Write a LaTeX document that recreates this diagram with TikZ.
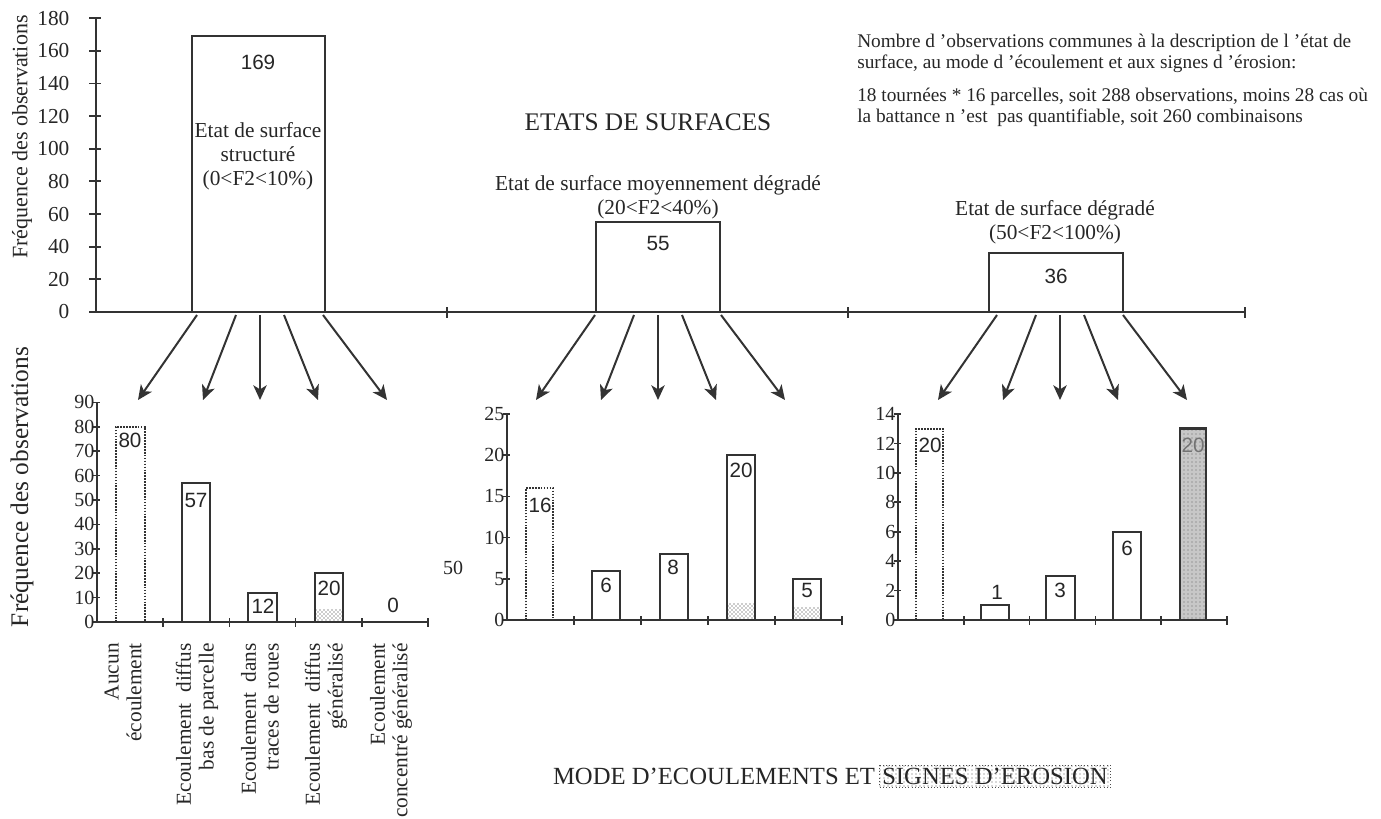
\documentclass[tikz,border=0pt]{standalone}
\usepackage{fontspec}
\setmainfont{Liberation Serif}
\setsansfont{Liberation Sans}
\usetikzlibrary{arrows.meta,patterns,positioning}

\begin{document}
\begin{tikzpicture}[x=0.75pt, y=-0.75pt,
  ink/.style={draw=black!80},
  axisline/.style={ink, line width=1.3pt},
  bar/.style={ink, line width=1.4pt},
  lightbar/.style={ink, densely dotted, line width=1.2pt},
  flow/.style={ink, line width=1.5pt, -{Stealth[length=11pt, width=10pt, inset=3pt]}},
  numlbl/.style={font=\fontsize{16}{17}\selectfont, inner sep=1pt, anchor=east, text=black!85},
  ytick/.style={font=\fontsize{15}{16}\selectfont, inner sep=1pt, anchor=east, text=black!85},
  val/.style={font=\sffamily\fontsize{15.5}{16}\selectfont, inner sep=0pt, text=black!85},
  lbl/.style={font=\fontsize{16}{18}\selectfont, align=center, inner sep=0pt, text=black!85},
  ylab/.style={rotate=90, inner sep=0pt, text=black!85},
  cat/.style={font=\fontsize{16}{17}\selectfont, rotate=90, anchor=east, align=right, inner sep=0pt, text=black!85},
  note/.style={font=\fontsize{14.5}{15.5}\selectfont, align=left, inner sep=0pt, anchor=north west, text=black!85},
  mode/.style={font=\fontsize{18.5}{20}\selectfont, inner sep=2pt, text=black!85},
  dotfill/.style={pattern=crosshatch dots, pattern color=black!85},
]
\useasboundingbox (0,0) rectangle (1381,818);

% etats de surfaces
\draw[axisline] (96,18) -- (96,312) -- (1245,312);
\foreach \v in {0,20,...,180}
  {\draw[axisline] (89,312-1.633*\v) -- (101,312-1.633*\v);
   \node[numlbl] (top\v) at (71,312-1.633*\v) {\v};}
\foreach \x in {447,848,1245} \draw[axisline] (\x,307) -- (\x,318);
\node[ylab, font=\fontsize{16.5}{18}\selectfont] (yhaut) at (22,137) {Fréquence des observations};

\draw[bar] (192,312) rectangle (325,36);
\draw[bar] (596,312) rectangle (720,222);
\draw[bar] (989,312) rectangle (1123,253);
\node[val] (n169) at (258,62) {169};
\node[lbl] (es1) at (258,156) {Etat de surface\\structuré\\(0<F2<10\%)};
\node[lbl] (es2) at (658,197) {Etat de surface moyennement dégradé\\(20<F2<40\%)};
\node[val] (n55) at (658,243) {55};
\node[lbl] (es3) at (1055,222) {Etat de surface dégradé\\(50<F2<100\%)};
\node[val] (n36) at (1056,276) {36};
\node[font=\fontsize{19}{21}\selectfont, text=black!85] (etats) at (648,122) {ETATS DE SURFACES};

\node[note] (note1) at (857,34) {Nombre d 'observations communes à la description de l 'état de\\surface, au mode d 'écoulement et aux signes d 'érosion:};
\node[note] (note2) at (857,88) {18 tournées * 16 parcelles, soit 288 observations, moins 28 cas où\\la battance n 'est~ pas quantifiable, soit 260 combinaisons};

% fleches
\foreach \g/\dx in {a/0,b/398,c/800}
  \foreach \i/\xa/\xb in {1/197/138,2/236/203,3/260/260,4/284/318,5/323/387}
  {\coordinate (\g s\i) at (\xa+\dx,315);
   \coordinate (\g e\i) at (\xb+\dx,400);
   \draw[flow] (\g s\i) -- (\g e\i);}

% modes d'ecoulement
\node[ylab, font=\fontsize{19}{20}\selectfont] (ybas) at (22,487) {Fréquence des observations};

\begin{scope}[shift={(97,622)}]
  \draw[axisline] (0,-220) -- (0,0) -- (331,0);
  \foreach \v in {0,10,...,90}
    {\draw[axisline] (-4,-2.44*\v) -- (3,-2.44*\v);
     \node[ytick] (ga\v) at (-1,-2.44*\v) {\v};}
  \foreach \k in {1,...,5} \draw[axisline] (66.2*\k,-4) -- (66.2*\k,5);
  \draw[lightbar] (19,0) rectangle (48,-195.2);
  \draw[bar] (85,0) rectangle (113,-139.1);
  \draw[bar] (151,0) rectangle (180,-29.3);
  \path[dotfill] (218,0) rectangle (246,-12.2);
  \draw[bar] (218,0) rectangle (246,-48.8);
  \node[val] (va1) at (33,-182) {80};
  \node[val] (va2) at (99,-122) {57};
  \node[val] (va3) at (166,-16) {12};
  \node[val] (va4) at (232,-34) {20};
  \node[val] (va5) at (296,-17) {0};
\end{scope}

\node[font=\fontsize{15}{16}\selectfont, text=black!85] (cinquante) at (453,568) {50};

\begin{scope}[shift={(507,620)}]
  \draw[axisline] (0,-206) -- (0,0) -- (335,0);
  \foreach \v in {0,5,...,25}
    {\draw[axisline] (-4,-8.24*\v) -- (3,-8.24*\v);
     \node[ytick] (gb\v) at (-1,-8.24*\v) {\v};}
  \foreach \k in {1,...,5} \draw[axisline] (67*\k,-4) -- (67*\k,5);
  \draw[lightbar] (19,0) rectangle (46,-131.8);
  \draw[bar] (85,0) rectangle (113,-49.4);
  \draw[bar] (153,0) rectangle (181,-65.9);
  \path[dotfill] (220,0) rectangle (248,-16.5);
  \draw[bar] (220,0) rectangle (248,-164.8);
  \path[dotfill] (286,0) rectangle (314,-12.4);
  \draw[bar] (286,0) rectangle (314,-41.2);
  \node[val] (vb1) at (33,-115) {16};
  \node[val] (vb2) at (99,-35) {6};
  \node[val] (vb3) at (166,-53) {8};
  \node[val] (vb4) at (234,-150) {20};
  \node[val] (vb5) at (300,-30) {5};
\end{scope}

\begin{scope}[shift={(898,620)}]
  \draw[axisline] (0,-206) -- (0,0) -- (329,0);
  \foreach \v in {0,2,...,14}
    {\draw[axisline] (-4,-14.71*\v) -- (3,-14.71*\v);
     \node[ytick] (gc\v) at (-1,-14.71*\v) {\v};}
  \foreach \k in {1,...,5} \draw[axisline] (65.8*\k,-4) -- (65.8*\k,5);
  \draw[lightbar] (18,0) rectangle (45,-191.2);
  \draw[bar] (83,0) rectangle (111,-14.7);
  \draw[bar] (148,0) rectangle (177,-44.1);
  \draw[bar] (215,0) rectangle (243,-88.3);
  \fill[black!22] (282,0) rectangle (308,-191.2);
  \path[pattern=dots, pattern color=black!60] (282,0) rectangle (308,-191.2);
  \draw[ink, line width=2.2pt] (282,0) rectangle (308,-191.2);
  \node[val] (vc1) at (32,-175) {20};
  \node[val] (vc2) at (99,-28) {1};
  \node[val] (vc3) at (162,-30) {3};
  \node[val] (vc4) at (229,-72) {6};
  \node[val, text=black!55] (vc5) at (295,-175) {20};
\end{scope}

\node[cat] (c1) at (123,643) {Aucun\\écoulement};
\node[cat] (c2) at (197,643) {Ecoulement~ diffus\\bas de parcelle};
\node[cat] (c3) at (260,643) {Ecoulement~ dans\\traces de roues};
\node[cat] (c4) at (326,643) {Ecoulement~ diffus\\généralisé};
\node[cat] (c5) at (391,643) {Ecoulement\\concentré généralisé};

\node[mode, anchor=east] (modeA) at (878,776) {MODE D'ECOULEMENTS ET};
\node[mode, right=1pt of modeA, draw=black!70, dotted, pattern=dots, pattern color=black!65] (modeB) {SIGNES D'EROSION};
\end{tikzpicture}
\end{document}
